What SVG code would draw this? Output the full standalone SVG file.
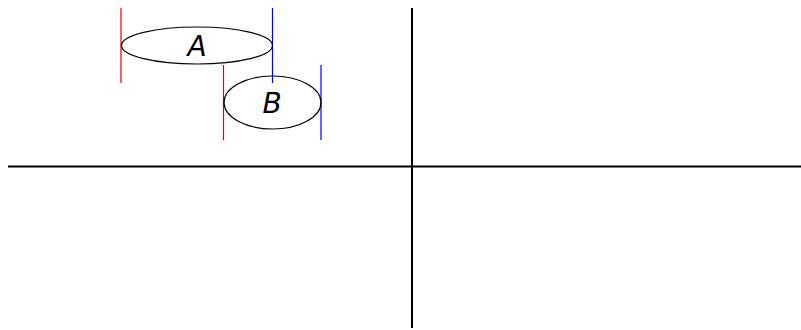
<svg xmlns="http://www.w3.org/2000/svg" width="801" height="330" viewBox="0 0 801 330">
<style>
.e{fill:none;stroke:#000;stroke-width:1.2}
.r{stroke:#e00000;stroke-width:1.2}
.b{stroke:#0000ff;stroke-width:1.2}
.ax{stroke:#000;stroke-width:2}
.t{font-family:"DejaVu Sans",sans-serif;font-style:italic;font-weight:300;font-size:28px;text-anchor:middle}
</style>
<rect width="801" height="330" fill="#fff"/>
<g id="connectors">
<line class="ax" x1="412" y1="8" x2="412" y2="328"/>
<line class="ax" x1="8" y1="166.5" x2="801" y2="166.5"/>
<line class="r" x1="121" y1="8" x2="121" y2="83"/>
<line class="b" x1="272.5" y1="8" x2="272.5" y2="83"/>
<line class="r" x1="223.5" y1="65" x2="223.5" y2="140"/>
<line class="b" x1="321" y1="65" x2="321" y2="140"/>
</g>
<g id="A">
<ellipse class="e" cx="197" cy="45.5" rx="75.5" ry="18.5"/>
<text class="t" x="197" y="56">A</text>
</g>
<g id="B">
<ellipse class="e" cx="272.5" cy="102.5" rx="48.5" ry="26.5"/>
<text class="t" x="272" y="113">B</text>
</g>
</svg>
